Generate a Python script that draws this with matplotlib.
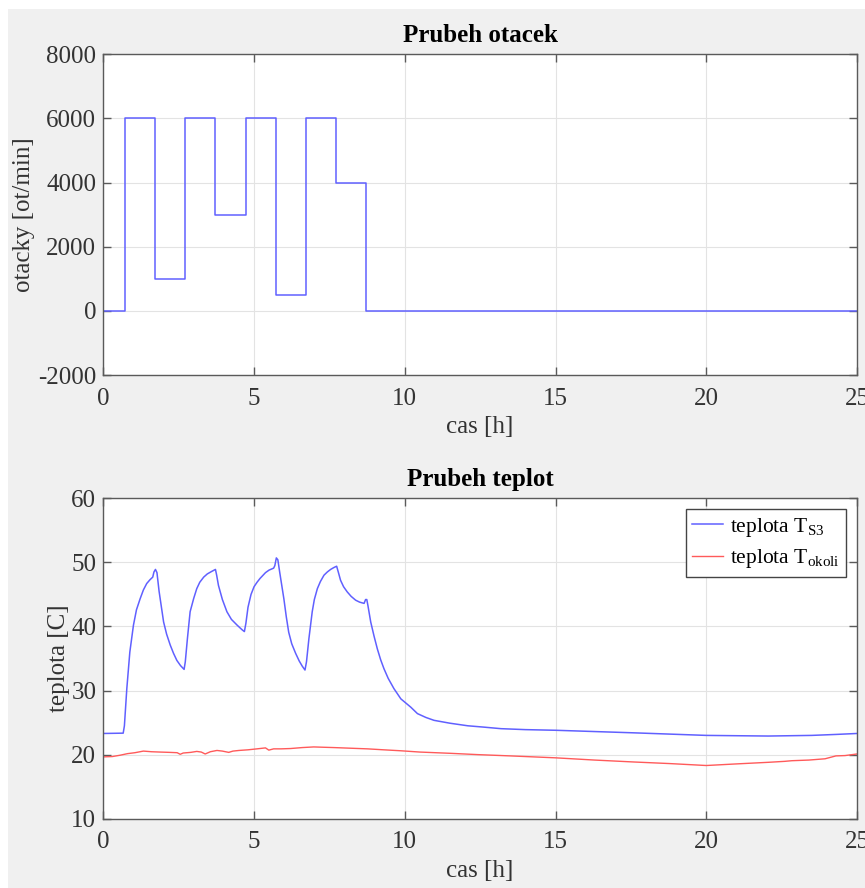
import matplotlib
matplotlib.use("Agg")
import matplotlib.pyplot as plt
from matplotlib.patches import Rectangle

plt.rcParams['font.family'] = ['Liberation Serif', 'DejaVu Serif']
plt.rcParams['mathtext.fontset'] = 'custom'
plt.rcParams['mathtext.rm'] = 'Liberation Serif'
plt.rcParams['axes.unicode_minus'] = False

# speed profile (step, post)
t_speed = [0, 0.72, 1.72, 2.72, 3.72, 4.72, 5.72, 6.72, 7.72, 8.72, 25]
speed = [0, 6000, 1000, 6000, 3000, 6000, 500, 6000, 4000, 0, 0]

# temperature T_S3
t_s3 = [0, 0.66, 0.70, 0.78, 0.88, 1.0, 1.1, 1.22, 1.33, 1.44, 1.55, 1.64, 1.68, 1.73, 1.78,
        1.85, 2.0, 2.1, 2.22, 2.33, 2.44, 2.56, 2.68, 2.72, 2.79, 2.88, 3.0, 3.1, 3.2, 3.33,
        3.45, 3.6, 3.72, 3.76, 3.82, 3.95, 4.1, 4.25, 4.44, 4.6, 4.68, 4.73, 4.8, 4.9, 5.0,
        5.1, 5.2, 5.38, 5.5, 5.65, 5.69, 5.74, 5.79, 5.85, 5.99, 6.07, 6.15, 6.25, 6.38, 6.5,
        6.6, 6.69, 6.74, 6.82, 6.93, 7.0, 7.1, 7.2, 7.32, 7.43, 7.54, 7.65, 7.74, 7.8, 7.87,
        7.97, 8.09, 8.22, 8.37, 8.5, 8.65, 8.7, 8.74, 8.78, 8.87, 8.98, 9.09, 9.2, 9.31, 9.45,
        9.64, 9.87, 10.2, 10.42, 10.7, 10.97, 11.5, 12.09, 12.6, 13.19, 14.0, 15.0, 16.3, 17.6,
        18.8, 20.0, 21.0, 22.06, 23.5, 24.3, 25.0]
temp_s3 = [23.3, 23.35, 24.5, 30.3, 36.0, 40.2, 42.6, 44.3, 45.7, 46.7, 47.3, 47.7, 48.5, 48.9, 48.4,
           45.5, 40.7, 38.8, 37.1, 35.8, 34.7, 33.9, 33.3, 34.5, 38.1, 42.3, 44.4, 45.9, 46.9, 47.7,
           48.2, 48.6, 48.9, 48.0, 46.4, 44.2, 42.3, 41.1, 40.2, 39.5, 39.2, 40.5, 43.0, 45.0, 46.2,
           46.9, 47.5, 48.4, 48.8, 49.1, 49.5, 50.7, 50.4, 48.5, 44.3, 41.5, 39.1, 37.3, 35.8, 34.6,
           33.8, 33.2, 34.5, 38.1, 42.3, 44.2, 45.9, 47.0, 48.0, 48.5, 48.9, 49.2, 49.4, 48.4, 47.2,
           46.2, 45.4, 44.7, 44.1, 43.8, 43.6, 44.2, 44.2, 43.2, 40.7, 38.5, 36.5, 34.8, 33.4, 31.9,
           30.3, 28.7, 27.4, 26.4, 25.8, 25.35, 24.9, 24.5, 24.3, 24.05, 23.9, 23.8, 23.6, 23.4,
           23.2, 23.0, 22.95, 22.9, 23.0, 23.15, 23.3]

# ambient temperature
t_amb = [0, 0.3, 0.55, 0.8, 1.05, 1.33, 1.6, 1.88, 2.2, 2.45, 2.55, 2.65, 2.9, 3.1, 3.25, 3.38,
         3.55, 3.77, 3.95, 4.16, 4.3, 4.5, 4.8, 5.1, 5.38, 5.49, 5.65, 5.9, 6.21, 6.6, 6.98, 7.3,
         7.65, 8.2, 8.76, 9.3, 9.87, 10.5, 11.53, 12.42, 13.5, 15.0, 16.3, 17.6, 18.8, 20.0, 21.0,
         22.06, 22.6, 22.84, 23.4, 23.94, 24.3, 24.6, 25.0]
temp_amb = [19.65, 19.7, 19.9, 20.15, 20.3, 20.55, 20.45, 20.4, 20.35, 20.3, 20.05, 20.25, 20.35, 20.5,
            20.4, 20.1, 20.45, 20.65, 20.55, 20.35, 20.55, 20.65, 20.75, 20.9, 21.05, 20.7, 20.9, 20.9,
            20.95, 21.1, 21.2, 21.15, 21.1, 21.0, 20.9, 20.75, 20.6, 20.4, 20.2, 20.0, 19.8, 19.5,
            19.15, 18.85, 18.6, 18.3, 18.55, 18.8, 18.95, 19.05, 19.15, 19.35, 19.8, 19.85, 20.1]

W, H = 865, 888
fig = plt.figure(figsize=(W / 100, H / 100), dpi=100)
fig.patch.set_facecolor('white')
fig.patches.append(Rectangle((8 / W, 0), 1, 1 - 9 / H, transform=fig.transFigure,
                             facecolor='#f0f0f0', edgecolor='none', zorder=-10))

ax1 = fig.add_axes([103.3 / W, 1 - 375 / H, (857 - 103.3) / W, (375 - 54.3) / H])
ax2 = fig.add_axes([103.3 / W, 1 - 818.7 / H, (857 - 103.3) / W, (818.7 - 498.3) / H])


def style(ax):
    ax.set_facecolor('white')
    ax.grid(True, color='#e3e3e3', linewidth=0.8)
    ax.set_axisbelow(True)
    for s in ax.spines.values():
        s.set_color('#5a5a5a')
        s.set_linewidth(1.0)
    ax.tick_params(direction='in', length=6, width=1, color='#5a5a5a',
                   top=True, right=True, labelsize=18, labelcolor='#333333')
    ax.tick_params(axis='x', pad=9)
    ax.tick_params(axis='y', pad=5)


ax1.step(t_speed, speed, where='post', color='#6060ff', linewidth=1.1)
ax1.set_xlim(0, 25)
ax1.set_ylim(-2000, 8000)
ax1.set_xticks([0, 5, 10, 15, 20, 25])
ax1.set_yticks([-2000, 0, 2000, 4000, 6000, 8000])
style(ax1)
ax1.set_title('Prubeh otacek', fontsize=18, fontweight='bold', pad=9)
ax1.set_xlabel('cas [h]', fontsize=18, color='#333333', labelpad=5)
ax1.set_ylabel('otacky [ot/min]', fontsize=18, color='#333333')
ax1.yaxis.set_label_coords(-0.0906, 0.5)

ax2.plot(t_s3, temp_s3, color='#6060ff', linewidth=1.1, label=r'teplota T$_{\mathrm{S3}}$')
ax2.plot(t_amb, temp_amb, color='#ff5a5a', linewidth=1.0, label=r'teplota T$_{\mathrm{okoli}}$')
ax2.set_xlim(0, 25)
ax2.set_ylim(10, 60)
ax2.set_xticks([0, 5, 10, 15, 20, 25])
ax2.set_yticks([10, 20, 30, 40, 50, 60])
style(ax2)
ax2.set_title('Prubeh teplot', fontsize=18, fontweight='bold', pad=9)
ax2.set_xlabel('cas [h]', fontsize=18, color='#333333', labelpad=5)
ax2.set_ylabel('teplota [C]', fontsize=18, color='#333333')
ax2.yaxis.set_label_coords(-0.0442, 0.5)
leg = ax2.legend(loc='upper right', fontsize=15.5, fancybox=False, framealpha=1,
                 edgecolor='#444444', handlelength=1.45, handletextpad=0.3,
                 borderpad=0.3, labelspacing=0.4, borderaxespad=0.5)
leg.get_frame().set_linewidth(1.0)

fig.savefig('out.png', dpi=100, facecolor=fig.get_facecolor())
